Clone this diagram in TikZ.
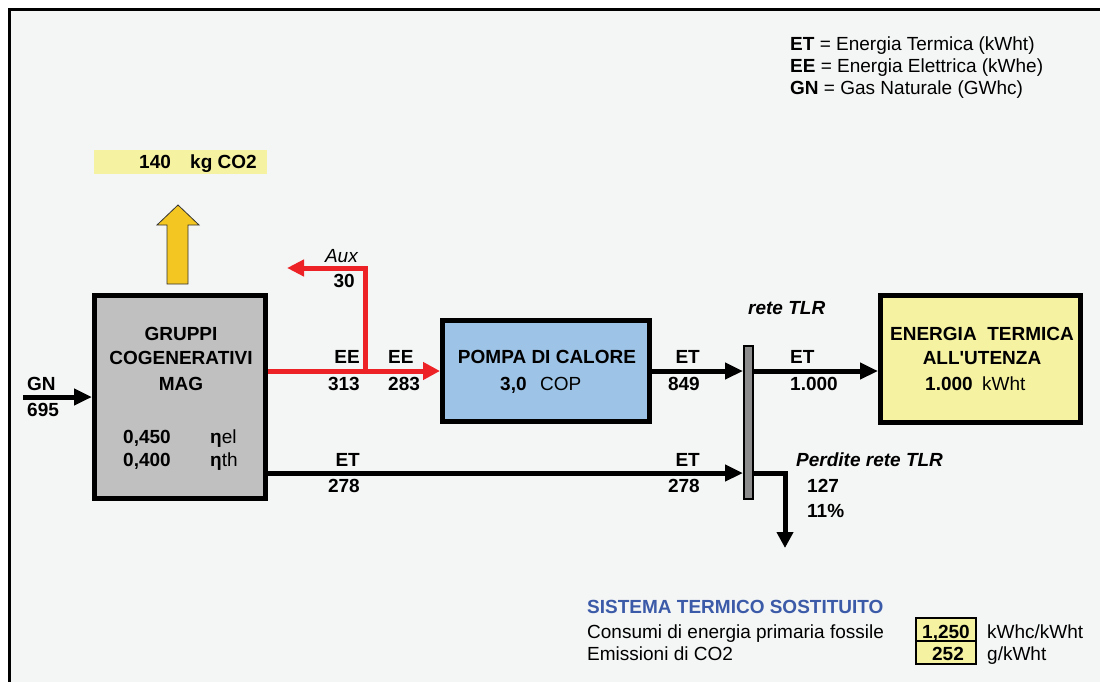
\documentclass[tikz,border=0pt]{standalone}
\usepackage{fontspec}
\setmainfont{Liberation Sans}
\usetikzlibrary{arrows.meta}
\definecolor{bgc}{HTML}{F4F6F5}
\definecolor{ybox}{HTML}{F5F2A2}
\definecolor{yarrow}{HTML}{F3C621}
\definecolor{ggray}{HTML}{C0C0C0}
\definecolor{pblue}{HTML}{9DC3E6}
\definecolor{fred}{HTML}{EC2227}
\definecolor{bgray}{HTML}{8C8C8C}
\definecolor{tblue}{HTML}{3B5AA8}
\pgfdeclarelayer{background}
\pgfdeclarelayer{conn}
\pgfsetlayers{background,conn,main}
\tikzset{
  txt/.style={inner sep=0pt, font=\fontsize{19}{22}\selectfont},
  txtb/.style={txt, font=\fontsize{19}{22}\selectfont\bfseries},
  txtbi/.style={txt, font=\fontsize{19}{22}\selectfont\bfseries\itshape},
  txti/.style={txt, font=\fontsize{19}{22}\selectfont\itshape},
  bigbox/.style={draw=black, line width=5pt, inner sep=0pt},
  flow/.style={draw=black, line width=5pt, line join=miter, -{Triangle[length=18pt,width=16pt]}},
  redflow/.style={draw=fred, line width=5pt, line join=miter, -{Triangle[length=17pt,width=17pt]}},
}
\begin{document}
\begin{tikzpicture}[x=1pt,y=-1pt]
\useasboundingbox (0,0) rectangle (1100,682);
\begin{pgfonlayer}{background}
  \fill[white] (0,0) rectangle (1100,682);
  \fill[bgc] (9.5,9.5) rectangle (1100,682);
  \draw[line width=3pt] (9.5,682) -- (9.5,9.5) -- (1100,9.5);
\end{pgfonlayer}

% legend
\node[txt, anchor=base west] (leg1) at (790,51) {\textbf{ET} = Energia Termica (kWht)};
\node[txt, anchor=base west] (leg2) at (790,73) {\textbf{EE} = Energia Elettrica (kWhe)};
\node[txt, anchor=base west] (leg3) at (790,95) {\textbf{GN} = Gas Naturale (GWhc)};

% CO2 label and arrow
\fill[ybox] (94,150) rectangle (267,174);
\node[txtb, anchor=base west] (co2v) at (139,168) {140};
\node[txtb, anchor=base west] (co2u) at (190,168) {kg CO2};
\draw[fill=yarrow, draw=black!80, line width=0.8pt] (167,284) -- (167,225) -- (157,225) -- (178,205) -- (199,225) -- (188,225) -- (188,284) -- cycle;

% boxes
\node[bigbox, fill=ggray, minimum width=171pt, minimum height=203pt] (gruppi) at (180,397) {};
\node[bigbox, fill=pblue, minimum width=207pt, minimum height=101pt] (pompa) at (546,371) {};
\node[bigbox, fill=ybox, minimum width=200pt, minimum height=127pt] (energia) at (980.5,359) {};
\node[draw=black, line width=2pt, fill=bgray, inner sep=0pt, minimum width=9pt, minimum height=153pt] (bar) at (748.5,422.5) {};

% box texts
\node[txtb, anchor=base] (g1) at (181,340) {GRUPPI};
\node[txtb, anchor=base] (g2) at (181,364) {COGENERATIVI};
\node[txtb, anchor=base] (g3) at (181,390) {MAG};
\node[txtb, anchor=base west] (el) at (123,443) {0,450};
\node[txt, anchor=base west] (elu) at (210,443) {\textbf{η}el};
\node[txtb, anchor=base west] (th) at (123,466) {0,400};
\node[txt, anchor=base west] (thu) at (210,466) {\textbf{η}th};

\node[txtb, anchor=base] (p1) at (547,363) {POMPA DI CALORE};
\node[txtb, anchor=base west] (p2) at (500,390) {3,0};
\node[txt, anchor=base west] (p3) at (540,390) {COP};

\node[txtb, anchor=base] (e1) at (982,340) {ENERGIA\ \ TERMICA};
\node[txtb, anchor=base] (e2) at (982,364) {ALL\textquotesingle UTENZA};
\node[txtb, anchor=base west] (e3) at (925,390) {1.000};
\node[txt, anchor=base west] (e4) at (982,390) {kWht};

% coordinates
\coordinate (gnstart) at (23,397);
\coordinate (jn) at (365,371);
\coordinate (auxc) at (365,268);
\coordinate (auxend) at (287,268);
\coordinate (lowref) at (700,473);
\coordinate (losscorner) at (785,473);
\coordinate (lossend) at (785,548);

% connectors
\begin{pgfonlayer}{conn}
  \draw[flow] (gnstart) -- (gruppi.west);
  \draw[redflow] (gruppi.east |- pompa.west) -- (pompa.west);
  \draw[redflow, -{Triangle[length=17pt,width=16pt]}] (jn) -- (auxc) -- (auxend);
  \draw[flow] (pompa.east) -- (pompa.east -| bar.west);
  \draw[flow] (bar.east |- pompa.east) -- (energia.west |- pompa.east);
  \draw[flow] (gruppi.east |- lowref) -- (bar.west |- lowref);
  \draw[flow, -{Triangle[length=16pt,width=16pt]}] (bar.east |- lowref) -- (losscorner) -- (lossend);
\end{pgfonlayer}

% flow labels
\node[txtb, anchor=base west] (gnl) at (27,390) {GN};
\node[txtb, anchor=base west] (gnv) at (27,416) {695};
\node[txti, anchor=base east] (auxl) at (358,262) {Aux};
\node[txtb, anchor=base east] (auxv) at (355,287) {30};
\node[txtb, anchor=base east] (ee1) at (360,363) {EE};
\node[txtb, anchor=base east] (ee1v) at (360,390) {313};
\node[txtb, anchor=base west] (ee2) at (388,363) {EE};
\node[txtb, anchor=base west] (ee2v) at (388,390) {283};
\node[txtb, anchor=base east] (et1) at (700,363) {ET};
\node[txtb, anchor=base east] (et1v) at (700,390) {849};
\node[txtb, anchor=base west] (et2) at (790,363) {ET};
\node[txtb, anchor=base west] (et2v) at (790,390) {1.000};
\node[txtb, anchor=base east] (et3) at (360,466) {ET};
\node[txtb, anchor=base east] (et3v) at (360,492) {278};
\node[txtb, anchor=base east] (et4) at (700,466) {ET};
\node[txtb, anchor=base east] (et4v) at (700,492) {278};
\node[txtbi, anchor=base west] (rete) at (748,314) {rete TLR};
\node[txtbi, anchor=base west] (perd) at (796,466) {Perdite rete TLR};
\node[txtb, anchor=base west] (perdv) at (807,492) {127};
\node[txtb, anchor=base west] (perdp) at (807,517) {11\%};

% bottom table
\node[txtb, anchor=base west, text=tblue] (sis) at (587,613) {SISTEMA TERMICO SOSTITUITO};
\node[txt, anchor=base west] (cons) at (587,638) {Consumi di energia primaria fossile};
\node[txt, anchor=base west] (emis) at (587,660) {Emissioni di CO2};
\draw[fill=ybox, line width=1.5pt] (916,618) rectangle (976,641);
\draw[fill=ybox, line width=1.5pt] (916,641) rectangle (976,664);
\node[txtb, anchor=base] (v1) at (946,638) {1,250};
\node[txtb, anchor=base] (v2) at (948,660) {252};
\node[txt, anchor=base west] (u1) at (987,638) {kWhc/kWht};
\node[txt, anchor=base west] (u2) at (987,660) {g/kWht};
\end{tikzpicture}
\end{document}
